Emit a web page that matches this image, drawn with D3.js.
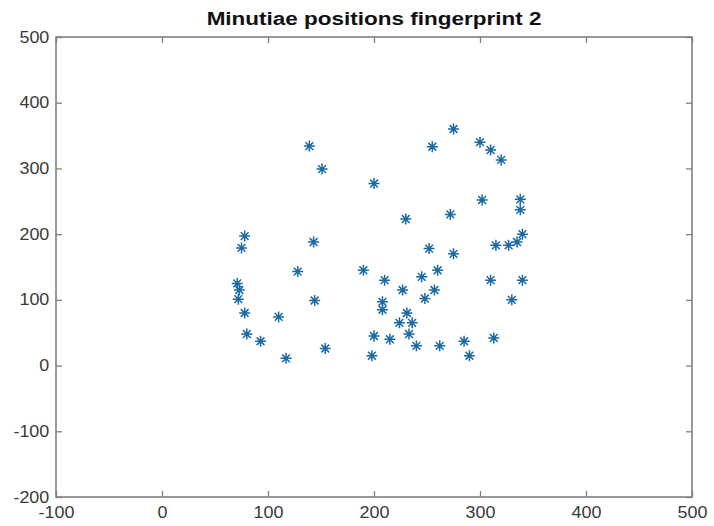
<!DOCTYPE html>
<html>
<head>
<meta charset="utf-8">
<script src="https://cdn.jsdelivr.net/npm/d3@7"></script>
<style>
  body { margin: 0; background: #fff; }
  svg text { font-family: "Liberation Sans", Arial, sans-serif; }
</style>
</head>
<body>
<svg id="chart"></svg>
<script>
// minutiae positions
var xs = [139, 151, 78, 75, 71, 73, 72, 78, 80, 93, 110, 117, 128, 143, 144, 154,
  200, 190, 198, 200, 208, 208, 210, 215, 224, 227, 230, 231, 233, 236, 240,
  245, 248, 252, 255, 257, 260, 262, 272, 275, 275, 285, 290, 300, 302, 310,
  310, 313, 315, 320, 327, 330, 335, 338, 338, 340, 340];
var ys = [334, 299, 197, 179, 125, 115, 101, 80, 48, 37, 74, 11, 143, 188, 99, 26,
  277, 145, 15, 45, 97, 85, 130, 40, 65, 115, 223, 80, 48, 65, 30,
  135, 102, 178, 333, 115, 145, 30, 230, 170, 360, 37, 15, 340, 252, 328,
  130, 42, 183, 313, 183, 100, 188, 253, 237, 200, 130];
var xTicks = [-100, 0, 100, 200, 300, 400, 500];
var yTicks = [-200, -100, 0, 100, 200, 300, 400, 500];
var title = "Minutiae positions fingerprint 2";

var width = 714, height = 526;
var m = {left: 56, right: 692, top: 37, bottom: 497};

var svg = d3.select("#chart")
  .attr("width", width)
  .attr("height", height);

var x = d3.scaleLinear().domain([-100, 500]).range([m.left, m.right]);
var y = d3.scaleLinear().domain([-200, 500]).range([m.bottom, m.top]);

var axisCol = "#808080", textCol = "#3a3a3a";
var fmt = function(v) { return String(v); };  // plain hyphen minus like the original

// box
svg.append("rect")
  .attr("x", m.left).attr("y", m.top)
  .attr("width", m.right - m.left).attr("height", m.bottom - m.top)
  .attr("fill", "none").attr("stroke", axisCol).attr("stroke-width", 1.6);

// axes: ticks inward, labels only on bottom/left
var xAxis = svg.append("g")
  .attr("transform", "translate(0," + m.bottom + ")")
  .call(d3.axisBottom(x).tickValues(xTicks).tickFormat(fmt).tickSizeInner(-6).tickSizeOuter(0).tickPadding(10));
var xTop = svg.append("g")
  .attr("transform", "translate(0," + m.top + ")")
  .call(d3.axisTop(x).tickValues(xTicks).tickSizeInner(-6).tickSizeOuter(0).tickFormat(""));
var yAxis = svg.append("g")
  .attr("transform", "translate(" + m.left + ",0)")
  .call(d3.axisLeft(y).tickValues(yTicks).tickFormat(fmt).tickSizeInner(-6).tickSizeOuter(0).tickPadding(6));
var yRight = svg.append("g")
  .attr("transform", "translate(" + m.right + ",0)")
  .call(d3.axisRight(y).tickValues(yTicks).tickSizeInner(-6).tickSizeOuter(0).tickFormat(""));

[xAxis, xTop, yAxis, yRight].forEach(function(g) {
  g.select(".domain").remove();
  g.selectAll("line").attr("stroke", axisCol).attr("stroke-width", 1.3);
  g.selectAll("text")
    .attr("fill", textCol)
    .attr("transform", "scale(1.12,1)")   // original image is a bit stretched sideways
    .style("font-size", "16px");
});

// asterisk markers
var r = 5.5, d = r * Math.SQRT1_2;
var star = "M" + (-r) + ",0L" + r + ",0M0," + (-r) + "L0," + r +
  "M" + (-d) + "," + (-d) + "L" + d + "," + d + "M" + (-d) + "," + d + "L" + d + "," + (-d);

svg.append("g").selectAll("path")
  .data(d3.range(xs.length))
  .enter().append("path")
  .attr("d", star)
  .attr("transform", function(i) { return "translate(" + x(xs[i]) + "," + y(ys[i]) + ")"; })
  .attr("fill", "none")
  .attr("stroke", "#1a6aa3")
  .attr("stroke-width", 1.5);

svg.append("text")
  .attr("transform", "translate(" + ((m.left + m.right) / 2) + ",25) scale(1.25,1)")
  .attr("text-anchor", "middle")
  .attr("fill", "#111")
  .style("font-size", "18px")
  .style("font-weight", "bold")
  .text(title);
</script>
</body>
</html>
